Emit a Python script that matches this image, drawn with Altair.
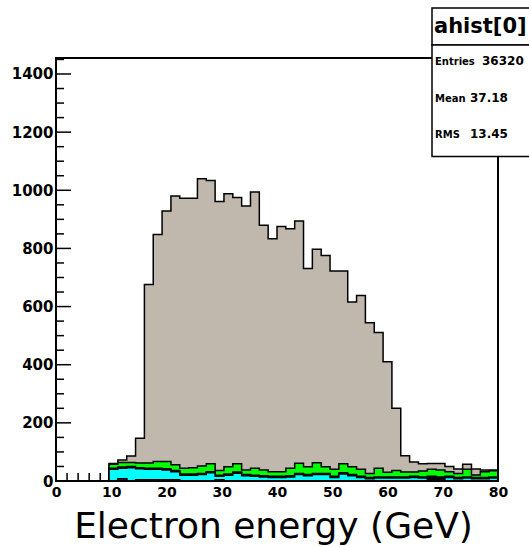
import numpy as np
import pandas as pd
import altair as alt

# ---------------- data (counts per 1.6 GeV bin, 50 bins from 0 to 80 GeV) ----------------
bin_width = 1.6
n_bins = 50
lead = [0, 0, 0, 0, 0, 0]  # bins 0..5 are empty

navy = lead + [0, 8] + [0] * 42
white = lead + [0, 0, 0, 4, 4, 4, 4, 4, 0, 0, 0, 0, 4] + [0] * 31
cyan = lead + [40, 36, 46, 38, 36, 36, 34, 28, 20, 20,
               22, 28, 12, 20, 27, 18, 16, 14, 12, 12,
               14, 22, 18, 22, 22, 12, 24, 18, 12, 8,
               10, 10, 10, 10, 12, 10, 4, 2, 12, 8,
               10, 8, 8, 10]
black = lead + [4] * 36 + [12, 12] + [4] * 6
green = lead + [14, 16, 14, 16, 18, 23, 25, 20, 20, 22,
                26, 27, 16, 25, 28, 16, 24, 20, 16, 16,
                26, 35, 27, 37, 23, 24, 31, 27, 24, 14,
                30, 16, 22, 17, 15, 20, 24, 24, 16, 14,
                26, 9, 20, 21]
signal = lead + [2, 8, 22, 85, 614, 781, 862, 924, 929, 927,
                 988, 975, 925, 939, 916, 908, 950, 842, 801, 843,
                 824, 833, 682, 734, 727, 682, 663, 567, 598, 518,
                 467, 380, 214, 56, 34, 25, 20, 22, 18, 15,
                 18, 20, 6, 3]

x_labels = [0, 10, 20, 30, 40, 50, 60, 70, 80]
y_labels = [0, 200, 400, 600, 800, 1000, 1200, 1400]
x_minor = [v for v in range(0, 81, 2) if v % 10 != 0]
y_minor = [v for v in range(0, 1451, 50) if v % 200 != 0]

stat_title = "ahist[0]"
stat_names = ["Entries", "Mean", "RMS"]
stat_values = ["36320", "37.18", "13.45"]

# ---------------- geometry ----------------
W, H = 442, 423
PAD = {"left": 56, "top": 58, "right": 31, "bottom": 66}

xscale = alt.Scale(domain=[0, 80], nice=False, zero=False)
yscale = alt.Scale(domain=[0, 1455], nice=False, zero=True)

x_axis = alt.Axis(
    values=x_labels, format="d", ticks=False, domain=False, grid=False,
    labelFont="DejaVu Sans", labelFontWeight="bold", labelFontSize=14,
    labelColor="black", labelPadding=4, labelOverlap=False, labelFlush=False,
    title="Electron energy (GeV)", titleFont="DejaVu Sans", titleFontSize=36,
    titleFontWeight="normal", titleColor="black", titleX=217, titleY=56,
    titleBaseline="alphabetic", titleAlign="center")
y_axis = alt.Axis(
    values=y_labels, format="d", ticks=False, domain=False, grid=False,
    labelFont="DejaVu Sans", labelFontWeight="bold", labelFontSize=15,
    labelColor="black", labelPadding=3, labelOverlap=False, labelFlush=False)

edges = np.round(np.arange(n_bins + 1) * bin_width, 2)
stack = [
    ("navy", navy, "#2f2f93"),
    ("white", white, "#ffffff"),
    ("cyan", cyan, "#00ffff"),
    ("black", black, "#000000"),
    ("green", green, "#00ff00"),
    ("signal", signal, "#c1b8ad"),
]

cum = np.zeros(n_bins)
area_frames = []
for name, vals, color in stack:
    cum = cum + np.array(vals, dtype=float)
    top = np.append(cum, cum[-1])
    area_frames.append((name, pd.DataFrame({"E": edges, "top": top}), color))

layers = []

# inner ticks (ROOT style) drawn first
ymaj = alt.Chart(pd.DataFrame({"top": y_labels})).mark_rule(color="black", strokeWidth=1.5).encode(
    y=alt.Y("top:Q", scale=yscale, axis=y_axis, title=None), x=alt.value(0), x2=alt.value(15))
ymin = alt.Chart(pd.DataFrame({"top": y_minor})).mark_rule(color="black", strokeWidth=1.5).encode(
    y=alt.Y("top:Q", scale=yscale, axis=y_axis, title=None), x=alt.value(0), x2=alt.value(8))
xmaj = alt.Chart(pd.DataFrame({"E": x_labels})).mark_rule(color="black", strokeWidth=1.5).encode(
    x=alt.X("E:Q", scale=xscale, axis=x_axis), y=alt.value(H), y2=alt.value(H - 15))
xmin = alt.Chart(pd.DataFrame({"E": x_minor})).mark_rule(color="black", strokeWidth=1.5).encode(
    x=alt.X("E:Q", scale=xscale, axis=x_axis), y=alt.value(H), y2=alt.value(H - 8))
layers += [ymaj, ymin, xmaj, xmin]

# stacked histograms, drawn from the total downwards
for name, df, color in reversed(area_frames):
    layers.append(
        alt.Chart(df).mark_area(interpolate="step-after", fill=color, stroke="black",
                                strokeWidth=1.5, fillOpacity=1).encode(
            x=alt.X("E:Q", scale=xscale, axis=x_axis),
            y=alt.Y("top:Q", scale=yscale, axis=y_axis, title=None))
    )

# frame
frame = alt.Chart(pd.DataFrame({"a": [0]})).mark_rect(
    fillOpacity=0, stroke="black", strokeWidth=2).encode(
    x=alt.value(0), x2=alt.value(W), y=alt.value(0), y2=alt.value(H))
layers.append(frame)

# statistics box
bx = 376
tbox = alt.Chart(pd.DataFrame({"a": [0]})).mark_rect(
    fill="white", stroke="black", strokeWidth=1.5).encode(
    x=alt.value(bx), x2=alt.value(W + 80), y=alt.value(-50), y2=alt.value(-13))
sbox = alt.Chart(pd.DataFrame({"a": [0]})).mark_rect(
    fill="white", stroke="black", strokeWidth=1.5).encode(
    x=alt.value(bx), x2=alt.value(W + 80), y=alt.value(-13), y2=alt.value(98.5))
layers += [tbox, sbox]

ttext = alt.Chart(pd.DataFrame({"a": [0]})).mark_text(
    align="left", baseline="alphabetic", font="DejaVu Sans", fontWeight="bold",
    fontSize=21, color="black", text=stat_title).encode(x=alt.value(bx + 2), y=alt.value(-25))
layers.append(ttext)

name_y = [7, 44, 80]
value_x = [426, 414, 414]
for nm, val, yy, vx in zip(stat_names, stat_values, name_y, value_x):
    layers.append(alt.Chart(pd.DataFrame({"a": [0]})).mark_text(
        align="left", baseline="alphabetic", font="DejaVu Sans", fontWeight="bold",
        fontSize=10, color="black", text=nm).encode(x=alt.value(bx + 3), y=alt.value(yy)))
    layers.append(alt.Chart(pd.DataFrame({"a": [0]})).mark_text(
        align="left", baseline="alphabetic", font="DejaVu Sans", fontWeight="bold",
        fontSize=12, color="black", text=val).encode(x=alt.value(vx), y=alt.value(yy)))

chart = alt.layer(*layers).properties(
    width=W, height=H,
    autosize=alt.AutoSizeParams(type="none"),
    padding=PAD,
    background="white",
).configure_view(strokeWidth=0)

chart.save("out.html", embed_options={"renderer": "svg", "actions": False})
